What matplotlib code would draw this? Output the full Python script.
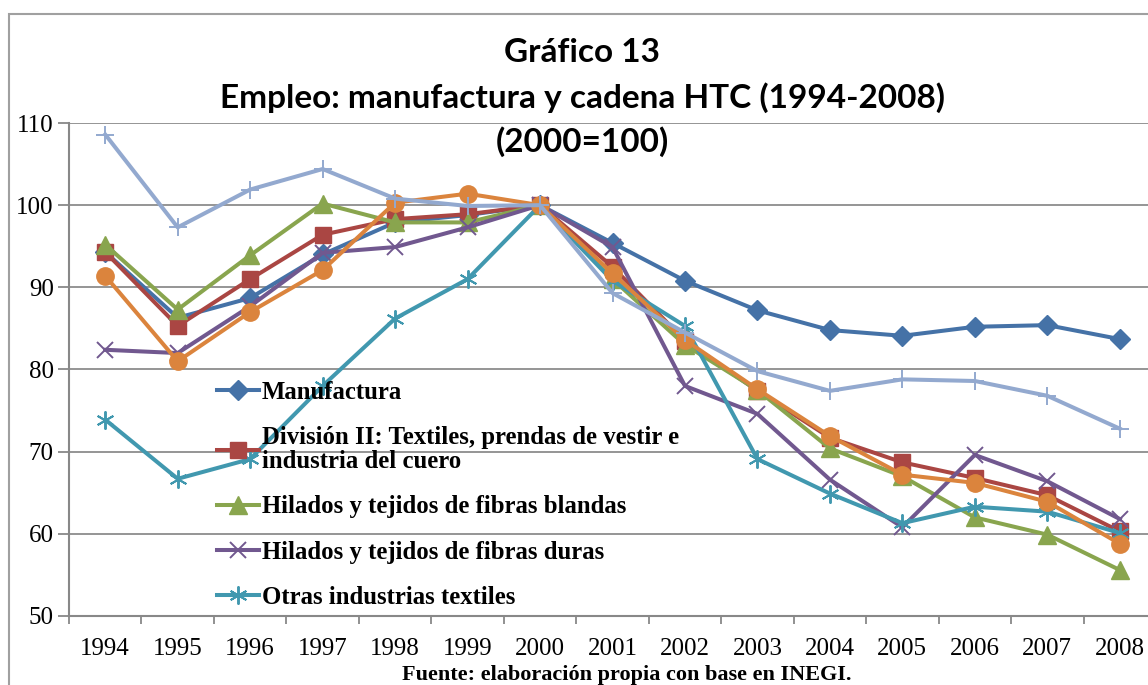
import numpy as np
import matplotlib
matplotlib.use("Agg")
import matplotlib.pyplot as plt
from matplotlib.patches import Rectangle

years = [str(y) for y in range(1994, 2009)]

manufactura = [94.3, 86.3, 88.7, 94.0, 97.9, 98.8, 100, 95.4, 90.8, 87.2, 84.8, 84.1, 85.2, 85.4, 83.7]
division_ii = [94.3, 85.3, 91.0, 96.4, 98.3, 98.9, 100, 92.5, 83.5, 77.4, 71.7, 68.7, 66.8, 64.7, 60.3]
blandas = [95.2, 87.3, 93.9, 100.2, 97.9, 97.9, 100, 91.0, 83.0, 77.5, 70.4, 67.0, 62.0, 59.9, 55.6]
duras = [82.4, 82.0, 87.7, 94.2, 94.9, 97.3, 100, 94.9, 78.0, 74.6, 66.6, 60.8, 69.6, 66.4, 61.8]
otras = [73.9, 66.7, 69.1, 78.0, 86.2, 91.0, 100, 90.8, 85.3, 69.1, 64.9, 61.3, 63.3, 62.7, 60.1]
serie_naranja = [91.4, 81.0, 87.0, 92.1, 100.3, 101.4, 100, 91.7, 83.6, 77.6, 71.9, 67.2, 66.2, 63.9, 58.8]
serie_celeste = [108.6, 97.3, 101.9, 104.4, 100.8, 99.9, 100, 89.3, 84.5, 79.8, 77.4, 78.8, 78.6, 76.8, 72.8]

labels = ["Manufactura",
          "División II: Textiles, prendas de vestir e\nindustria del cuero",
          "Hilados y tejidos de fibras blandas",
          "Hilados y tejidos de fibras duras",
          "Otras industrias textiles"]

fig = plt.figure(figsize=(11.48, 6.85), dpi=100)
ax = fig.add_axes([69/1148, 1 - 616/685, (1156 - 69)/1148, (616 - 123)/685])

# borde del area del grafico
fig.patches.append(Rectangle((9/1148, -0.1), 1.2, 1 - 14/685 + 0.1, transform=fig.transFigure,
                             fill=False, edgecolor="#a0a0a0", linewidth=1.5))

x = np.arange(len(years))
lw = 2.9
styles = [
    (manufactura, "#4572A7", "D", 10, labels[0]),
    (division_ii, "#AA4643", "s", 11.5, labels[1]),
    (blandas, "#89A54E", "^", 12.5, labels[2]),
    (duras, "#71588F", "x", 12, labels[3]),
    (otras, "#4198AF", (6, 2, 0), 13, labels[4]),
    (serie_naranja, "#DB843D", "o", 12.5, "_nolegend_"),
    (serie_celeste, "#93A9CF", "+", 13, "_nolegend_"),
]
for vals, col, mk, ms, lab in styles:
    ax.plot(x, vals, color=col, marker=mk, markersize=ms, linewidth=lw, label=lab,
            markeredgewidth=1.4 if mk in ("x", "+") or isinstance(mk, tuple) else 1,
            markeredgecolor=col, clip_on=False)

ax.set_xlim(-0.5, len(years) - 0.5)
ax.set_ylim(50, 110)
ax.set_yticks(range(50, 111, 10))
ax.set_xticks(np.arange(-0.5, len(years), 1))
ax.set_xticklabels([])
ax.set_xticks(x, minor=True)
ax.set_xticklabels(years, minor=True)
ax.tick_params(axis="x", which="minor", length=0, pad=16)
ax.tick_params(axis="x", which="major", length=6, color="#888888", width=1.3)
ax.tick_params(axis="y", length=8, color="#888888", width=1.3, pad=3)
for lab in ax.get_xticklabels(minor=True) + ax.get_yticklabels():
    lab.set_fontfamily("Liberation Serif")
    lab.set_fontsize(18)

ax.grid(axis="y", color="#8c8c8c", linewidth=1.3)
ax.set_axisbelow(True)
for s in ["top", "right"]:
    ax.spines[s].set_visible(False)
for s in ["left", "bottom"]:
    ax.spines[s].set_color("#888888")
    ax.spines[s].set_linewidth(1.5)

leg = ax.legend(loc="upper left", bbox_to_anchor=(0.125, 0.502), frameon=False,
                prop={"family": "Liberation Serif", "weight": "bold", "size": 17.8},
                handlelength=1.7, handletextpad=0.1, labelspacing=0.9, borderpad=0)
for t in leg.get_texts():
    t.set_linespacing(1.05)

fig.text(0.507, 1 - 52/685, "Gráfico 13", ha="center", va="center",
         fontfamily="Lato", fontweight="bold", fontsize=24)
fig.text(0.507, 1 - 98/685, "Empleo: manufactura y cadena HTC (1994-2008)", ha="center", va="center",
         fontfamily="Lato", fontweight="bold", fontsize=24)
fig.text(0.507, 1 - 142/685, "(2000=100)", ha="center", va="center",
         fontfamily="Lato", fontweight="bold", fontsize=24)
fig.text(627/1148, 1 - 675/685, "Fuente: elaboración propia con base en INEGI.", ha="center", va="center",
         fontfamily="Liberation Serif", fontweight="bold", fontsize=16)

fig.savefig("out.png", dpi=100)
